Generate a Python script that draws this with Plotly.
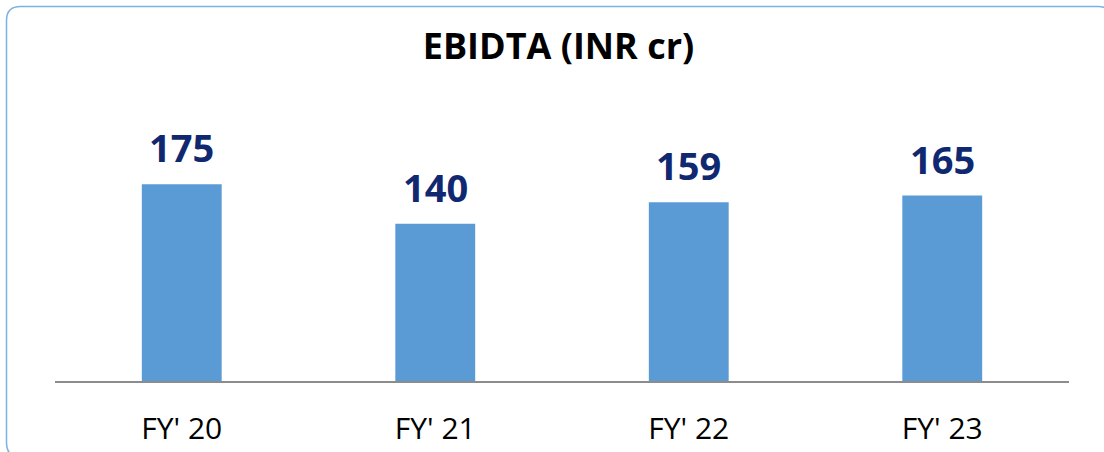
import plotly.graph_objects as go

categories = ["FY' 20", "FY' 21", "FY' 22", "FY' 23"]
ebitda = [175, 140, 159, 165]
title_text = "EBIDTA (INR cr)"

W, H = 1104, 452
ML, MR, MT, MB = 55, 35, 100, 71
PW, PH = W - ML - MR, H - MT - MB

def px(x):
    return (x - ML) / PW

def py(y):
    return (H - MB - y) / PH

fig = go.Figure()
fig.add_trace(go.Bar(
    x=categories, y=ebitda,
    marker=dict(color="#5B9BD5", line=dict(width=0)),
    width=0.315,
    hoverinfo="skip",
))

for c, v in zip(categories, ebitda):
    fig.add_annotation(
        x=c, y=v, text=f"<b>{v}</b>", showarrow=False,
        yanchor="bottom", yshift=9,
        font=dict(family="Open Sans", size=38, color="#0F2870"),
    )

# rounded border (right and bottom edges fall just outside the view)
x0, y0, x1, y1, r = 6.5, 6.5, 1112, 457, 14
path = (
    f"M {px(x0 + r)},{py(y0)} L {px(x1 - r)},{py(y0)} "
    f"Q {px(x1)},{py(y0)} {px(x1)},{py(y0 + r)} "
    f"L {px(x1)},{py(y1 - r)} Q {px(x1)},{py(y1)} {px(x1 - r)},{py(y1)} "
    f"L {px(x0 + r)},{py(y1)} Q {px(x0)},{py(y1)} {px(x0)},{py(y1 - r)} "
    f"L {px(x0)},{py(y0 + r)} Q {px(x0)},{py(y0)} {px(x0 + r)},{py(y0)} Z"
)
fig.add_shape(type="path", path=path, xref="paper", yref="paper",
              line=dict(color="#7EB1E3", width=1.5), layer="above")

fig.update_layout(
    width=W, height=H,
    margin=dict(l=ML, r=MR, t=MT, b=MB, autoexpand=False),
    paper_bgcolor="white", plot_bgcolor="white",
    showlegend=False,
    title=dict(text=f"<b>{title_text}</b>", x=(558.5 - ML) / PW, xref="paper",
               xanchor="center", y=1 - 46 / H, yanchor="middle",
               font=dict(family="Open Sans", size=36, color="black")),
    xaxis=dict(
        showline=True, linecolor="#8C8C8C", linewidth=2,
        showgrid=False, zeroline=False, ticks="",
        tickfont=dict(family="Open Sans", size=30, color="black"),
        ticklabelstandoff=20, automargin=False,
        fixedrange=True,
    ),
    yaxis=dict(range=[0, 250], visible=False, fixedrange=True, automargin=False),
)

fig.write_html("out.html", config={"displayModeBar": False},
               post_script="document.body.style.margin='0px';")
